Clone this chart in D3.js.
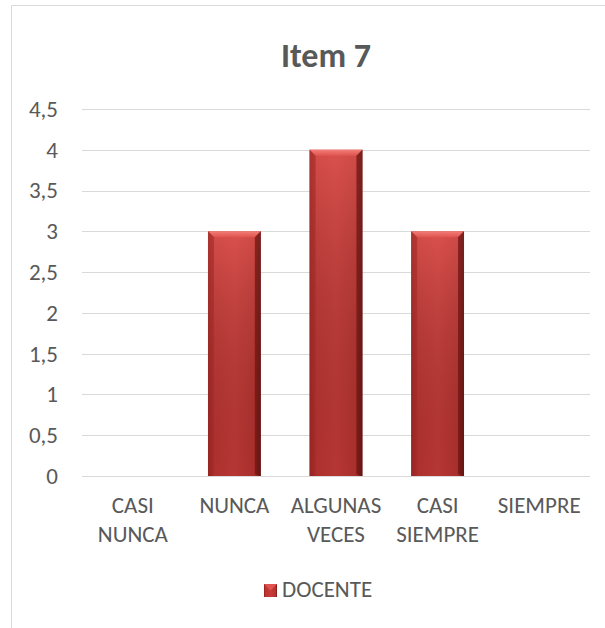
<!DOCTYPE html>
<html>
<head>
<meta charset="utf-8">
<script src="https://cdn.jsdelivr.net/npm/d3@7"></script>
<style>
  body { margin: 0; background: #fff; }
  svg { display: block; font-family: Carlito, Calibri, Lato, sans-serif; }
</style>
</head>
<body>
<div id="chart"></div>
<script>
// données du graphique
const categories = [['CASI', 'NUNCA'], ['NUNCA'], ['ALGUNAS', 'VECES'], ['CASI', 'SIEMPRE'], ['SIEMPRE']];
const values = [0, 3, 4, 3, 0];
const yTicks = [0, 0.5, 1, 1.5, 2, 2.5, 3, 3.5, 4, 4.5];
const seriesName = 'DOCENTE';
const title = 'Item 7';

const width = 605, height = 628;
const margin = { top: 109, right: 15, bottom: 152, left: 82 };
const innerWidth = width - margin.left - margin.right;
const innerHeight = height - margin.top - margin.bottom;
const fontFamily = 'Carlito, Calibri, Lato, sans-serif';

const svg = d3.select('#chart').append('svg')
    .attr('width', width)
    .attr('height', height);

// cadre du graphique
svg.append('path')
    .attr('d', `M11.5,${height} V5.5 H${width}`)
    .attr('fill', 'none')
    .attr('stroke', '#d9d9d9')
    .attr('stroke-width', 1);

// dégradés des barres
const defs = svg.append('defs');
const faceGrad = defs.append('linearGradient').attr('id', 'face')
    .attr('x1', 0).attr('x2', 1).attr('y1', 0).attr('y2', 0);
faceGrad.append('stop').attr('offset', '0%').attr('stop-color', '#8e201e');
faceGrad.append('stop').attr('offset', '12%').attr('stop-color', '#bd3532');
faceGrad.append('stop').attr('offset', '50%').attr('stop-color', '#c63b38');
faceGrad.append('stop').attr('offset', '88%').attr('stop-color', '#b83330');
faceGrad.append('stop').attr('offset', '100%').attr('stop-color', '#6e1614');

const shadeGrad = defs.append('linearGradient').attr('id', 'shade')
    .attr('x1', 0).attr('x2', 0).attr('y1', 0).attr('y2', 1);
shadeGrad.append('stop').attr('offset', '0%').attr('stop-color', '#ff7a75').attr('stop-opacity', 0.35);
shadeGrad.append('stop').attr('offset', '100%').attr('stop-color', '#000').attr('stop-opacity', 0.08);

const topGrad = defs.append('linearGradient').attr('id', 'bevelTop')
    .attr('x1', 0).attr('x2', 0).attr('y1', 0).attr('y2', 1);
topGrad.append('stop').attr('offset', '0%').attr('stop-color', '#f27d78');
topGrad.append('stop').attr('offset', '100%').attr('stop-color', '#e0534e');

svg.append('text')
    .attr('x', 326)
    .attr('y', 67)
    .attr('text-anchor', 'middle')
    .style('font-size', '34px')
    .style('font-weight', 'bold')
    .style('fill', '#595959')
    .text(title);

const g = svg.append('g')
    .attr('transform', `translate(${margin.left},${margin.top})`);

const xScale = d3.scaleBand()
    .domain(d3.range(categories.length))
    .range([0, innerWidth])
    .paddingInner(0.48)
    .paddingOuter(0.24);

const yScale = d3.scaleLinear()
    .domain([0, 4.5])
    .range([innerHeight, 0]);

// axe Y
const yAxis = d3.axisLeft(yScale)
    .tickValues(yTicks)
    .tickSize(0)
    .tickPadding(24)
    .tickFormat(d => String(d).replace('.', ','));

const yAxisG = g.append('g').call(yAxis);
yAxisG.select('.domain').remove();
yAxisG.attr('font-family', null).attr('font-size', null);
yAxisG.selectAll('text')
    .style('font-size', '23px')
    .style('font-family', fontFamily)
    .style('fill', '#595959');

// grille
g.selectAll('.grid')
    .data(yTicks)
    .enter()
    .append('line')
    .attr('x1', 0)
    .attr('x2', innerWidth)
    .attr('y1', d => Math.round(yScale(d)) + 0.5)
    .attr('y2', d => Math.round(yScale(d)) + 0.5)
    .attr('stroke', '#d9d9d9')
    .attr('stroke-width', 1);

// barres biseautées
const bev = 6;
const bars = g.selectAll('.bar')
    .data(values.map((v, i) => ({ i, v })).filter(d => d.v > 0))
    .enter()
    .append('g')
    .attr('class', 'bar');

bars.append('rect')
    .attr('x', d => xScale(d.i))
    .attr('y', d => yScale(d.v))
    .attr('width', xScale.bandwidth())
    .attr('height', d => innerHeight - yScale(d.v))
    .attr('fill', 'url(#face)');

bars.append('rect')
    .attr('x', d => xScale(d.i))
    .attr('y', d => yScale(d.v))
    .attr('width', xScale.bandwidth())
    .attr('height', d => innerHeight - yScale(d.v))
    .attr('fill', 'url(#shade)');

bars.append('path')
    .attr('d', d => {
        const x0 = xScale(d.i), x1 = x0 + xScale.bandwidth(), y0 = yScale(d.v);
        return `M${x0},${y0} H${x1} L${x1 - bev},${y0 + bev} H${x0 + bev} Z`;
    })
    .attr('fill', 'url(#bevelTop)');

bars.append('path')
    .attr('d', d => {
        const x0 = xScale(d.i), y0 = yScale(d.v);
        return `M${x0},${y0} L${x0 + bev},${y0 + bev} V${innerHeight - 2} L${x0},${innerHeight} Z`;
    })
    .attr('fill', '#a32b28')
    .attr('opacity', 0.6);

bars.append('path')
    .attr('d', d => {
        const x1 = xScale(d.i) + xScale.bandwidth(), y0 = yScale(d.v);
        return `M${x1},${y0} L${x1 - bev},${y0 + bev} V${innerHeight - 2} L${x1},${innerHeight} Z`;
    })
    .attr('fill', '#6a1513')
    .attr('opacity', 0.7);

// axe X (étiquettes, une ligne par texte)
const labelLines = categories.flatMap((lines, i) => lines.map((t, k) => ({ i, k, t })));
g.append('g')
    .selectAll('text')
    .data(labelLines)
    .enter()
    .append('text')
    .attr('x', d => xScale(d.i) + xScale.bandwidth() / 2)
    .attr('y', d => innerHeight + 37 + d.k * 29)
    .attr('text-anchor', 'middle')
    .style('font-size', '23px')
    .style('fill', '#595959')
    .text(d => d.t);

// légende
const legend = svg.append('g')
    .attr('transform', 'translate(264,584)');

legend.append('rect')
    .attr('width', 13)
    .attr('height', 13)
    .attr('fill', 'url(#face)');

legend.append('path')
    .attr('d', 'M0,0 H13 L6.5,6.5 Z')
    .attr('fill', '#e0534e');

legend.append('text')
    .attr('x', 18)
    .attr('y', 13)
    .style('font-size', '23px')
    .style('fill', '#595959')
    .text(seriesName);
</script>
</body>
</html>
